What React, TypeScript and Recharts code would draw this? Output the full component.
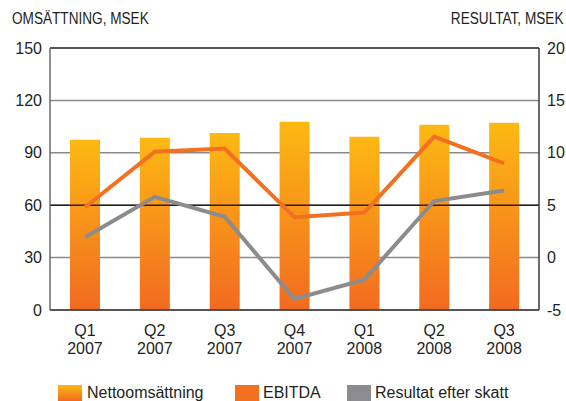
import React from "react";
import {
  ComposedChart,
  Bar,
  Line,
  XAxis,
  YAxis,
  CartesianGrid,
  ReferenceLine,
} from "recharts";

const quarters = ["Q1", "Q2", "Q3", "Q4", "Q1", "Q2", "Q3"];
const years = ["2007", "2007", "2007", "2007", "2008", "2008", "2008"];
const nettoomsattning = [97.4, 98.6, 101.4, 107.8, 99.2, 106, 107.2];
const ebitda = [4.8, 10.1, 10.4, 3.85, 4.3, 11.55, 9.0];
const resultat = [1.95, 5.8, 3.9, -3.95, -2.1, 5.4, 6.4];

const leftTicks = [0, 30, 60, 90, 120, 150];
const rightTicks = [-5, 0, 5, 10, 15, 20];

const data = quarters.map((q, i) => ({
  name: `${q} ${years[i]}`,
  q,
  year: years[i],
  netto: nettoomsattning[i],
  ebitda: ebitda[i],
  resultat: resultat[i],
}));

const FONT = "'Liberation Sans', Arial, sans-serif";
const TEXT = "#231f20";

const QuarterTick = (props: any) => {
  const { x, y, payload, index } = props;
  const row = data[index] ?? data.find((d) => d.name === payload.value);
  return (
    <text x={x} y={y} textAnchor="middle" fontFamily={FONT} fontSize={16} fill={TEXT}>
      <tspan x={x} dy={18}>{row?.q}</tspan>
      <tspan x={x} dy={18}>{row?.year}</tspan>
    </text>
  );
};

const legendItems = [
  { label: "Nettoomsättning", fill: "linear-gradient(#fdb913, #f26a21)", left: 58, textLeft: 87 },
  { label: "EBITDA", fill: "#f37021", left: 235, textLeft: 263 },
  { label: "Resultat efter skatt", fill: "#8c8c8e", left: 347, textLeft: 375 },
];

const titleStyle: React.CSSProperties = {
  position: "absolute",
  top: 11,
  fontFamily: FONT,
  fontSize: 16,
  color: TEXT,
  lineHeight: 1,
  whiteSpace: "nowrap",
};

export default function App() {
  return (
    <div style={{ position: "absolute", left: 0, top: 0, width: 566, height: 401, background: "#fff" }}>
      <div style={{ ...titleStyle, left: 12, transform: "scaleX(0.85)", transformOrigin: "left" }}>
        OMSÄTTNING, MSEK
      </div>
      <div style={{ ...titleStyle, right: 3, transform: "scaleX(0.85)", transformOrigin: "right" }}>
        RESULTAT, MSEK
      </div>
      <ComposedChart
        width={566}
        height={401}
        data={data}
        margin={{ top: 48, right: 0, left: 0, bottom: 40 }}
      >
        <defs>
          <linearGradient id="barGrad" x1="0" y1="0" x2="0" y2="1">
            <stop offset="0%" stopColor="#fdb913" />
            <stop offset="100%" stopColor="#f26a21" />
          </linearGradient>
        </defs>
        <CartesianGrid yAxisId="left" vertical={false} stroke="#8a8a8a" strokeWidth={1.5} />
        <XAxis
          dataKey="name"
          tick={<QuarterTick />}
          tickLine={false}
          axisLine={{ stroke: "#3a3a3a", strokeWidth: 1.5 }}
          interval={0}
          height={51}
        />
        <YAxis
          yAxisId="left"
          domain={[0, 150]}
          ticks={leftTicks}
          width={50}
          tickLine={false}
          axisLine={{ stroke: "#6a6a6a", strokeWidth: 1.5 }}
          tick={{ fontFamily: FONT, fontSize: 16, fill: TEXT }}
        />
        <YAxis
          yAxisId="right"
          orientation="right"
          domain={[-5, 20]}
          ticks={rightTicks}
          width={27}
          tickLine={false}
          axisLine={{ stroke: "#3a3a3a", strokeWidth: 1.5 }}
          tick={{ fontFamily: FONT, fontSize: 16, fill: TEXT, textAnchor: "start" }}
        />
        <ReferenceLine yAxisId="left" y={60} stroke="#231f20" strokeWidth={1.5} />
        <ReferenceLine yAxisId="left" y={150} stroke="#3a3a3a" strokeWidth={1.5} />
        <Bar yAxisId="left" dataKey="netto" barSize={30} fill="url(#barGrad)" isAnimationActive={false} />
        <Line
          yAxisId="right"
          dataKey="ebitda"
          stroke="#f37021"
          strokeWidth={4}
          dot={false}
          type="linear"
          isAnimationActive={false}
        />
        <Line
          yAxisId="right"
          dataKey="resultat"
          stroke="#8c8c8e"
          strokeWidth={4}
          dot={false}
          type="linear"
          isAnimationActive={false}
        />
      </ComposedChart>
      {legendItems.map((item) => (
        <React.Fragment key={item.label}>
          <div
            style={{
              position: "absolute",
              left: item.left,
              top: 385,
              width: 24,
              height: 16,
              background: item.fill,
            }}
          />
          <div
            style={{
              position: "absolute",
              left: item.textLeft,
              top: 385,
              fontFamily: FONT,
              fontSize: 16,
              color: TEXT,
              lineHeight: 1,
              whiteSpace: "nowrap",
            }}
          >
            {item.label}
          </div>
        </React.Fragment>
      ))}
    </div>
  );
}
